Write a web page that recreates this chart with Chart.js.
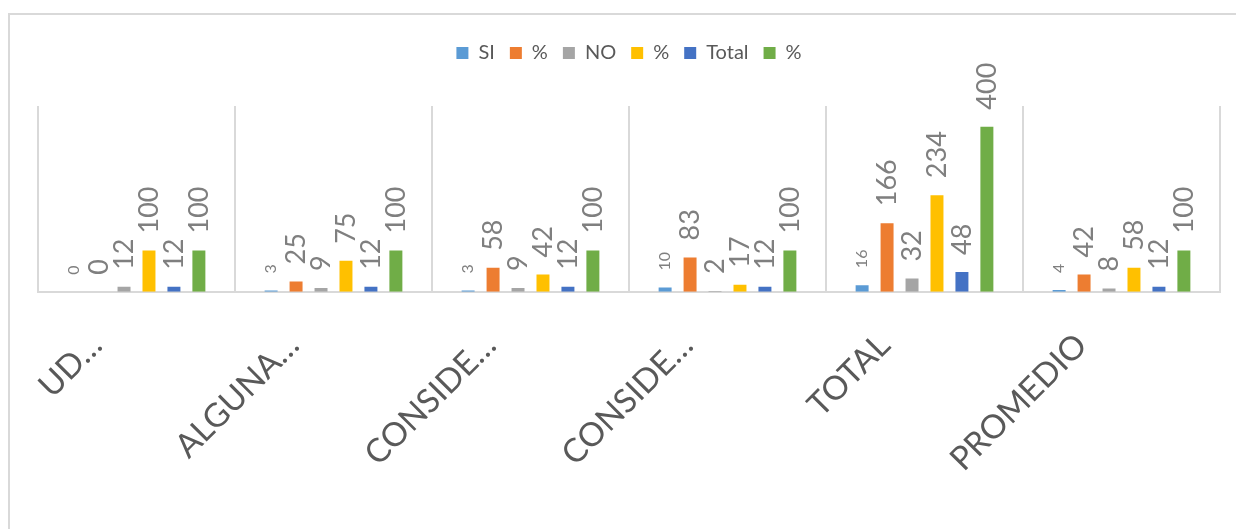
<!DOCTYPE html>
<html>
<head>
<meta charset="utf-8">
<script src="https://cdn.jsdelivr.net/npm/chart.js@4"></script>
<style>
  html, body { margin: 0; padding: 0; background: #fff; }
  body { width: 1236px; height: 529px; position: relative; overflow: hidden; }
  #frame { position: absolute; left: 8px; top: 13px; width: 1300px; height: 600px;
           border-left: 2px solid #d9d9d9; border-top: 2px solid #d9d9d9; }
  #wrap { position: absolute; left: 0; top: 0; width: 1236px; height: 529px; }
</style>
</head>
<body>
<div id="frame"></div>
<div id="wrap"><canvas id="chart"></canvas></div>
<script>
// ── Data ──
const categories = ['UD…', 'ALGUNA…', 'CONSIDE…', 'CONSIDE…', 'TOTAL', 'PROMEDIO'];
const seriesNames = ['SI', '%', 'NO', '%', 'Total', '%'];
const siValues    = [0, 3, 3, 10, 16, 4];
const siPct       = [0, 25, 58, 83, 166, 42];
const noValues    = [12, 9, 9, 2, 32, 8];
const noPct       = [100, 75, 42, 17, 234, 58];
const totalValues = [12, 12, 12, 12, 48, 12];
const totalPct    = [100, 100, 100, 100, 400, 100];
const yMax = 450;

const colors = ['#5B9BD5', '#ED7D31', '#A5A5A5', '#FFC000', '#4472C4', '#70AD47'];
const allSeries = [siValues, siPct, noValues, noPct, totalValues, totalPct];

const FONT = 'Lato, "Open Sans", sans-serif';

// ── Rotated value labels above bars ──
const valueLabels = {
  id: 'valueLabels',
  afterDatasetsDraw(chart) {
    const ctx = chart.ctx;
    chart.data.datasets.forEach((ds, i) => {
      const meta = chart.getDatasetMeta(i);
      const size = i === 0 ? 16 : 27;
      meta.data.forEach((bar, j) => {
        ctx.save();
        ctx.translate(bar.x, bar.y - 17);
        ctx.rotate(-Math.PI / 2);
        ctx.font = `${size}px ${FONT}`;
        ctx.fillStyle = '#7f7f7f';
        ctx.textAlign = 'left';
        ctx.textBaseline = 'middle';
        ctx.fillText(String(ds.data[j]), 0, 0);
        ctx.restore();
      });
    });
  }
};

// ── Extra space under the legend ──
const legendGap = {
  id: 'legendGap',
  beforeInit(chart) {
    const fit = chart.legend.fit;
    chart.legend.fit = function () {
      fit.bind(chart.legend)();
      this.height += 33;
    };
  }
};

new Chart(document.getElementById('chart'), {
  type: 'bar',
  data: {
    labels: categories,
    datasets: allSeries.map((vals, i) => ({
      label: seriesNames[i],
      data: vals,
      backgroundColor: colors[i],
      categoryPercentage: 0.76,
      barPercentage: 0.52
    }))
  },
  options: {
    responsive: true,
    maintainAspectRatio: false,
    animation: false,
    layout: { padding: { left: 38, right: 16, top: 28, bottom: 16 } },
    plugins: {
      legend: {
        position: 'top',
        labels: {
          boxWidth: 12, boxHeight: 12, padding: 15,
          color: '#595959',
          font: { family: FONT, size: 20 }
        }
      },
      tooltip: { enabled: false }
    },
    scales: {
      x: {
        grid: { color: '#d9d9d9', lineWidth: 2, drawTicks: false },
        border: { color: '#d9d9d9', width: 2 },
        ticks: {
          autoSkip: false, minRotation: 45, maxRotation: 45,
          padding: 34, labelOffset: -40,
          color: '#595959',
          font: { family: FONT, size: 33 }
        }
      },
      y: { display: false, min: 0, max: yMax }
    }
  },
  plugins: [valueLabels, legendGap]
});
</script>
</body>
</html>
